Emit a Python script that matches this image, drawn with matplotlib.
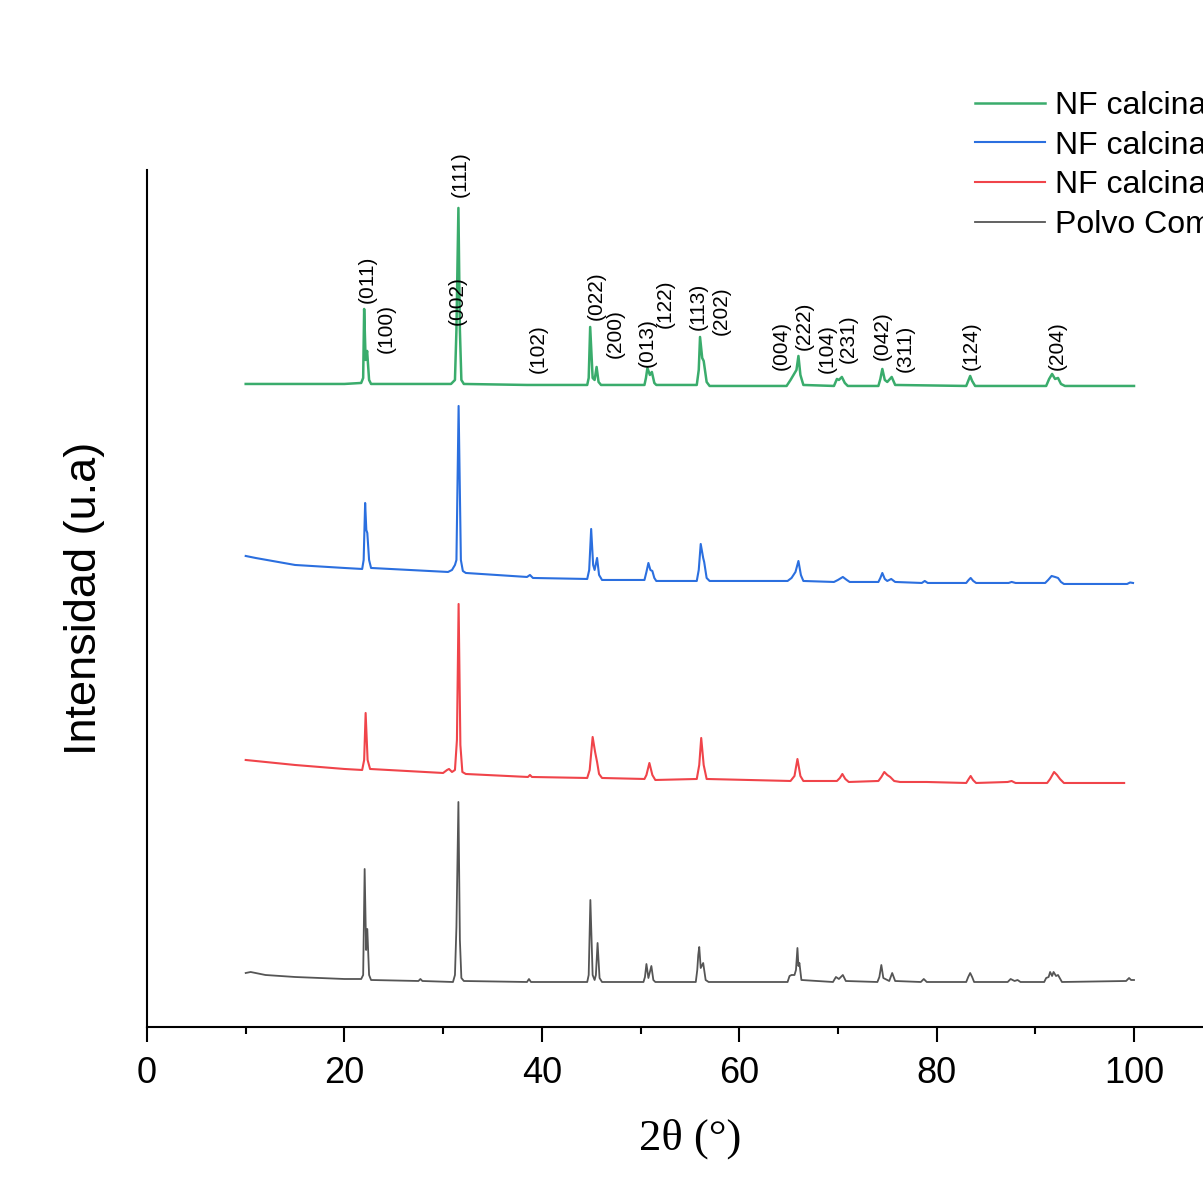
import matplotlib
matplotlib.use("Agg")
import matplotlib.pyplot as plt
from matplotlib.ticker import MultipleLocator

# 2theta (deg) / stacked intensity (a.u., offsets already included)
x_polvo = [10.0, 10.5, 12, 15, 20, 21.7, 21.9, 22.05, 22.2, 22.32, 22.5, 22.7,
           27.5, 27.7, 27.9, 31.0, 31.2, 31.35, 31.55, 31.7, 31.85, 32.1,
           38.5, 38.7, 38.9, 44.6, 44.75, 44.92, 45.15, 45.35, 45.48, 45.65, 45.85, 46.1,
           50.3, 50.45, 50.6, 50.8, 51.1, 51.3, 51.5,
           55.6, 55.75, 55.85, 55.95, 56.1, 56.35, 56.6, 56.9,
           64.9, 65.1, 65.3, 65.6, 65.75, 65.9, 66.0, 66.1, 66.3,
           69.5, 69.8, 70.1, 70.5, 70.8, 74.0, 74.2, 74.4, 74.6, 75.2, 75.5, 75.8,
           78.4, 78.7, 79.0, 83.0, 83.2, 83.4, 83.6, 83.8,
           87.2, 87.5, 87.9, 88.2, 88.5,
           90.9, 91.1, 91.35, 91.5, 91.7, 91.85, 92.1, 92.3, 92.7,
           99.2, 99.5, 99.7, 100.0]
y_polvo = [54, 55, 52, 50, 48, 48, 52, 158, 77, 98, 52, 47,
           46, 48, 46, 45, 52, 100, 225, 87, 49, 46,
           45, 48, 45, 45, 52, 127, 52, 47, 52, 84, 49, 45,
           45, 50, 63, 49, 61, 47, 45,
           45, 57, 72, 80, 59, 64, 47, 45,
           45, 51, 52, 52, 57, 79, 61, 64, 47,
           45, 50, 48, 52, 46, 45, 50, 62, 49, 46, 54, 46,
           45, 48, 45, 45, 50, 54, 50, 45,
           45, 48, 46, 47, 45,
           45, 49, 50, 55, 51, 55, 51, 52, 45,
           46, 49, 47, 47]

x_red = [10, 11, 15, 20, 21.8, 22.0, 22.15, 22.35, 22.6,
         30.0, 30.4, 30.6, 30.9, 31.2, 31.4, 31.57, 31.75, 31.95, 32.3,
         38.6, 38.8, 39.0, 44.6, 44.85, 45.15, 45.4, 45.6, 45.8, 46.1,
         50.4, 50.6, 50.9, 51.2, 51.5, 55.7, 55.95, 56.15, 56.4, 56.7,
         65.2, 65.6, 65.9, 66.2, 66.5, 69.9, 70.2, 70.45, 70.75, 71.1,
         74.1, 74.4, 74.7, 75.0, 75.3, 75.7, 76.3, 79.0,
         83.0, 83.25, 83.45, 83.7, 84.0, 87.2, 87.6, 88.0,
         91.2, 91.5, 91.9, 92.2, 92.5, 92.9, 99.0]
y_red = [267, 266, 262, 258, 257, 267, 314, 267, 258,
         254, 257, 258, 255, 257, 287, 423, 282, 255, 253,
         250, 252, 250, 249, 257, 290, 275, 265, 253, 249,
         248, 252, 264, 252, 247, 248, 262, 289, 262, 248,
         246, 251, 268, 251, 246, 246, 249, 253, 248, 245,
         246, 250, 255, 252, 250, 246, 245, 245,
         244, 248, 251, 247, 244, 245, 246, 244,
         244, 248, 255, 252, 248, 244, 244]

x_blue = [10, 11, 15, 20, 21.8, 21.95, 22.1, 22.22, 22.32, 22.5, 22.7,
          30.5, 30.9, 31.2, 31.35, 31.57, 31.8, 32.0, 32.3,
          38.5, 38.8, 39.1, 44.6, 44.8, 45.0, 45.2, 45.35, 45.6, 45.8, 46.1,
          50.4, 50.6, 50.8, 51.0, 51.2, 51.4, 51.6,
          55.7, 55.9, 56.1, 56.35, 56.45, 56.7, 57.0,
          64.9, 65.3, 65.7, 66.0, 66.25, 66.5, 69.6, 70.0, 70.5, 70.9, 71.2,
          74.1, 74.3, 74.5, 74.75, 75.0, 75.4, 75.8, 78.5, 78.8, 79.1,
          83.0, 83.25, 83.45, 83.7, 84.0, 87.3, 87.6, 88.0,
          91.0, 91.3, 91.65, 92.0, 92.3, 92.6, 92.9, 99.3, 99.6, 99.9]
y_blue = [471, 469, 462, 459, 458, 467, 524, 497, 494, 467, 459,
          455, 457, 462, 467, 621, 467, 456, 454,
          450, 452, 449, 448, 457, 498, 462, 457, 469, 452, 447,
          447, 455, 464, 457, 456, 449, 446,
          446, 457, 483, 469, 465, 449, 446,
          446, 449, 455, 466, 452, 446, 445, 447, 450, 447, 445,
          445, 449, 454, 448, 446, 448, 445, 444, 446, 444,
          444, 447, 449, 446, 444, 444, 445, 444,
          444, 447, 451, 450, 449, 445, 443, 443, 444.5, 444]

x_green = [10, 15, 20, 21.7, 21.9, 22.0, 22.15, 22.3, 22.5, 22.7,
           30.8, 31.2, 31.35, 31.55, 31.7, 31.85, 32.1,
           38.5, 44.6, 44.75, 44.9, 45.15, 45.35, 45.55, 45.75, 46.0,
           50.4, 50.55, 50.7, 50.95, 51.15, 51.4, 51.6,
           55.7, 55.9, 56.03, 56.25, 56.4, 56.7, 57.0,
           64.8, 65.2, 65.5, 65.8, 66.0, 66.2, 66.5,
           69.6, 69.9, 70.1, 70.4, 70.7, 71.0,
           74.1, 74.3, 74.5, 74.75, 75.0, 75.45, 75.8,
           83.0, 83.2, 83.4, 83.6, 83.9,
           91.1, 91.4, 91.7, 92.0, 92.3, 92.6, 93.0, 100]
y_green = [643, 643, 643, 644, 649, 718, 667, 676, 647, 643,
           643, 647, 697, 819, 697, 647, 643,
           642, 642, 649, 700, 649, 647, 660, 645, 642,
           642, 649, 659, 652, 655, 644, 642,
           642, 657, 690, 669, 666, 645, 641,
           641, 647, 652, 657, 671, 652, 642,
           641, 648, 647, 650, 644, 641,
           641, 648, 658, 647, 645, 650, 642,
           641, 646, 651, 646, 641,
           641, 648, 653, 648, 649, 643, 641, 641]

series_labels = ["NF calcinada 700 °C", "NF calcinada 600 °C",
                 "NF calcinada 500 °C", "Polvo Comercial"]

# Miller indices: label, 2theta position, baseline height of the text
hkl_labels = ["(011)", "(100)", "(002)", "(111)", "(102)", "(022)", "(200)",
              "(013)", "(122)", "(113)", "(202)", "(004)", "(222)", "(104)",
              "(231)", "(042)", "(311)", "(124)", "(204)"]
hkl_x = [22.3, 24.2, 31.4, 31.7, 39.6, 45.5, 47.4, 50.7, 52.5, 55.9, 58.2,
         64.3, 66.6, 68.9, 71.0, 74.5, 76.8, 83.5, 92.2]
hkl_y = [724, 674, 702, 830, 654, 707, 669, 660, 699, 697, 692,
         657, 677, 654, 664, 667, 655, 657, 657]

fig = plt.figure(figsize=(12.03, 11.81), dpi=100)
ax = fig.add_axes([0.1222, 0.1304, 0.9025, 0.7257])

l_green, = ax.plot(x_green, y_green, color="#3aac6c", lw=1.8)
l_blue, = ax.plot(x_blue, y_blue, color="#2b6fdf", lw=1.5)
l_red, = ax.plot(x_red, y_red, color="#f0444a", lw=1.5)
l_black, = ax.plot(x_polvo, y_polvo, color="#555555", lw=1.3)

for lab, xx, yy in zip(hkl_labels, hkl_x, hkl_y):
    ax.text(xx, yy, lab, rotation=90, ha="center", va="bottom",
            fontsize=15, family="Liberation Sans")

ax.set_xlim(0, 110)
ax.set_ylim(0, 857)
ax.set_yticks([])
ax.xaxis.set_major_locator(MultipleLocator(20))
ax.xaxis.set_minor_locator(MultipleLocator(10))
ax.tick_params(axis="x", which="major", direction="out", length=11, width=1.5,
               labelsize=26, pad=10)
ax.tick_params(axis="x", which="minor", direction="out", length=5, width=1.5)
for t in ax.get_xticklabels():
    t.set_family("Liberation Sans")
ax.spines["top"].set_visible(False)
ax.spines["right"].set_visible(False)
ax.spines["left"].set_linewidth(1.5)
ax.spines["bottom"].set_linewidth(1.5)

ax.set_xlabel("2θ (°)", fontsize=32, family="Liberation Serif", labelpad=20)
ax.set_ylabel("Intensidad (u.a)", fontsize=32.5, family="Liberation Sans",
              labelpad=30)

fig.legend([l_green, l_blue, l_red, l_black], series_labels,
           loc="upper left", bbox_to_anchor=(0.8105, 0.923), frameon=False,
           borderpad=0, borderaxespad=0, handlelength=2.2, handletextpad=0.3,
           labelspacing=0.3, prop={"family": "Liberation Sans", "size": 23})

fig.savefig("out.png", dpi=100)
